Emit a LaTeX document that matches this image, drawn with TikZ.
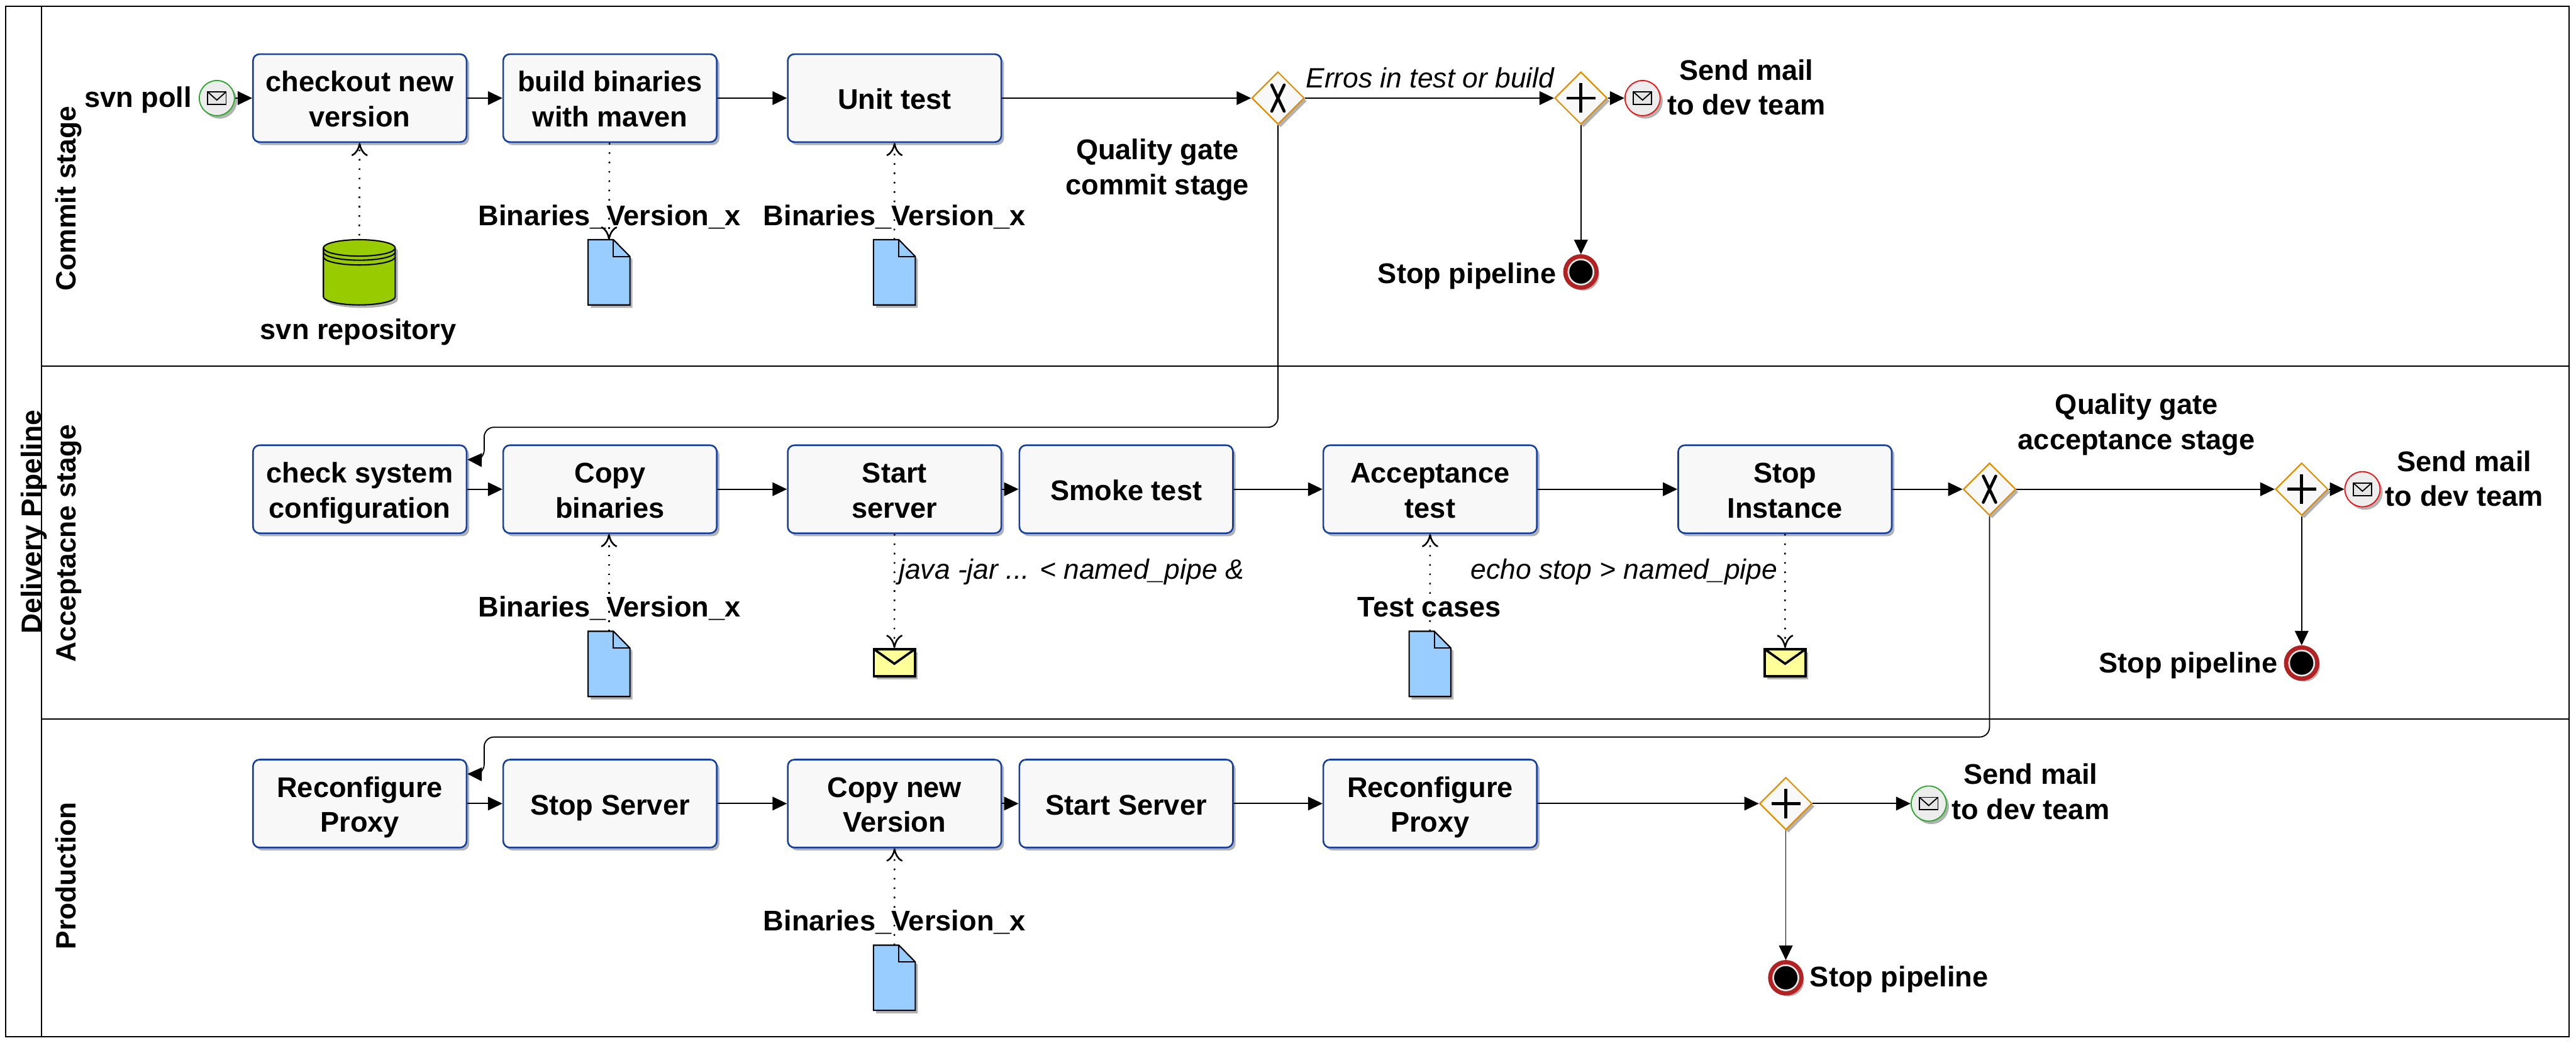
\documentclass[tikz,border=0pt]{standalone}
\usepackage{fontspec}
\setmainfont{Liberation Sans}
\usetikzlibrary{arrows.meta, shapes.geometric, shadows}

\definecolor{boxblue}{HTML}{1540A0}
\definecolor{boxfill}{HTML}{F8F8F8}
\definecolor{gateorange}{HTML}{E08A00}
\definecolor{docblue}{HTML}{99CCFF}
\definecolor{repogreen}{HTML}{99CC00}
\definecolor{msgyellow}{HTML}{FFFF99}
\definecolor{startgreen}{HTML}{2AA82A}
\definecolor{endred}{HTML}{EE1111}
\definecolor{stopred}{HTML}{B22222}

\tikzset{
  softshadow/.style={drop shadow={shadow xshift=1.6pt, shadow yshift=-1.8pt, fill=black, opacity=0.3}},
  lbl/.style={font=\fontsize{17.3}{21.3}\selectfont\bfseries, align=center, inner sep=0pt, execute at begin node={\rule{0pt}{17.2pt}}, execute at end node={\rule[-3.6pt]{0pt}{3.6pt}}},
  twoline/.style={execute at begin node={\rule{0pt}{38.5pt}}},
  note/.style={font=\fontsize{17}{21}\selectfont\itshape, inner sep=0pt},
  lanelbl/.style={font=\fontsize{17}{21}\selectfont\bfseries, inner sep=0pt, rotate=90, anchor=base},
  task/.style={lbl, draw=boxblue, fill=boxfill, line width=1pt, rounded corners=4pt, minimum width=130pt, minimum height=53.5pt, softshadow},
  flow/.style={-{Triangle[length=8.8pt, width=8.3pt]}, line width=0.7pt},
  assoc/.style={-{Computer Modern Rightarrow[length=8pt, width=10pt]}, line width=1pt, dash pattern=on 1pt off 4.7pt},
  gate/.style={diamond, draw=gateorange, fill=boxfill, line width=0.8pt, minimum width=32pt, minimum height=32pt, inner sep=0pt, softshadow},
  xgate/.style={gate, path picture={
    \draw[draw=black, line width=1.8pt, line cap=round]
      ([xshift=-3.8pt, yshift=8pt]path picture bounding box.center) -- ([xshift=3.8pt, yshift=-8pt]path picture bounding box.center)
      ([xshift=3.8pt, yshift=8pt]path picture bounding box.center) -- ([xshift=-3.8pt, yshift=-8pt]path picture bounding box.center);}},
  pgate/.style={gate, path picture={
    \draw[draw=black, line width=1.8pt]
      ([xshift=-8.8pt]path picture bounding box.center) -- ([xshift=8.8pt]path picture bounding box.center)
      ([yshift=9pt]path picture bounding box.center) -- ([yshift=-9pt]path picture bounding box.center);}},
  mailevent/.style={circle, draw=#1, fill=black!7, line width=0.7pt, minimum size=21.4pt, inner sep=0pt, softshadow, path picture={
    \draw[draw=black, line width=0.7pt, fill=black!10]
      ([xshift=-5.6pt, yshift=3.8pt]path picture bounding box.center) rectangle ([xshift=5.6pt, yshift=-3.8pt]path picture bounding box.center);
    \draw[draw=black, line width=0.7pt]
      ([xshift=-5.6pt, yshift=3.8pt]path picture bounding box.center) -- ([yshift=-1.2pt]path picture bounding box.center) -- ([xshift=5.6pt, yshift=3.8pt]path picture bounding box.center);}},
  stopevent/.style={circle, draw=stopred, fill=black!8, line width=2.6pt, minimum size=19pt, inner sep=0pt, softshadow, path picture={
    \fill[black] (path picture bounding box.center) circle (7.1pt);}},
  msgdata/.style={draw=black, fill=msgyellow, line width=1.4pt, minimum width=25pt, minimum height=16.6pt, inner sep=0pt, softshadow, path picture={
    \draw[line width=1.4pt]
      (path picture bounding box.north west) -- ([yshift=-0.6pt]path picture bounding box.center) -- (path picture bounding box.north east);}},
  empty/.style={minimum width=#1, minimum height=39.7pt, inner sep=0pt, outer sep=0pt},
}

\newcommand{\datadoc}[3]{
  \node[empty=25.4pt] (#1) at (#2,#3) {};
  \draw[fill=docblue, line width=0.8pt, softshadow] (#1.north west) -- ([xshift=15.4pt]#1.north west) -- ([yshift=-10.2pt]#1.north east) -- (#1.south east) -- (#1.south west) -- cycle;
  \draw[line width=0.8pt] ([xshift=15.4pt]#1.north west) |- ([yshift=-10.2pt]#1.north east);
}

\begin{document}
\begin{tikzpicture}[x=1pt, y=-1pt]
      \useasboundingbox (0,0) rectangle (1568,634.7);

      % pool and lanes
      \draw[line width=0.8pt] (3.6,3.9) rectangle (1563.7,630.8);
      \draw[line width=0.8pt] (25.2,3.9) -- (25.2,630.8);
      \draw[line width=0.8pt] (25.2,222.9) -- (1563.7,222.9);
      \draw[line width=0.8pt] (25.2,437.6) -- (1563.7,437.6);
      \node[lanelbl] (pool) at (25,317.6) {Delivery Pipeline};
      \node[lanelbl] (lane1) at (46,120.8) {Commit stage};
      \node[lanelbl] (lane2) at (46,330.7) {Acceptacne stage};
      \node[lanelbl] (lane3) at (46,533) {Production};

      % commit stage
      \node[mailevent=startgreen] (poll) at (132,59.7) {};
      \node[task, twoline] (checkout) at (219,59.7) {checkout new\\version};
      \node[task, twoline] (build) at (371.3,59.7) {build binaries\\with maven};
      \node[task] (unit) at (544.5,59.7) {Unit test};
      \node[xgate] (gate1) at (777.9,59.7) {};
      \node[pgate] (plus1) at (962.3,59.7) {};
      \node[mailevent=endred] (mail1) at (999.8,59.7) {};
      \node[stopevent] (stop1) at (962.3,165.5) {};

      \node[empty=43.7pt] (repo) at (218.7,165.7) {};
      \draw[fill=repogreen, line width=0.8pt, softshadow] ([yshift=-5pt]repo.north west) arc[start angle=180, end angle=0, x radius=21.85pt, y radius=5pt] -- ([yshift=5pt]repo.south east) arc[start angle=0, end angle=-180, x radius=21.85pt, y radius=5pt] -- cycle;
      \draw[line width=0.8pt] ([yshift=-5pt]repo.north west) arc[start angle=180, end angle=360, x radius=21.85pt, y radius=5pt];
      \draw[line width=0.8pt] ([yshift=-7.5pt]repo.north west) arc[start angle=180, end angle=360, x radius=21.85pt, y radius=5pt];
      \draw[line width=0.8pt] ([yshift=-10.4pt]repo.north west) arc[start angle=180, end angle=360, x radius=21.85pt, y radius=5pt];
      \datadoc{doc1}{370.7}{165.7}
      \datadoc{doc2}{544.4}{165.7}

      \draw[flow] (poll) -- (checkout);
      \draw[flow] (checkout) -- (build);
      \draw[flow] (build) -- (unit);
      \draw[flow] (unit) -- (gate1);
      \draw[flow] (gate1) -- (plus1);
      \draw[flow] (plus1) -- (mail1);
      \draw[flow] (plus1) -- (stop1);
      \draw[assoc] ([yshift=2.5pt]repo.north) -- (checkout);
      \draw[assoc] ([xshift=-0.3pt]build.south) -- (doc1.north);
      \draw[assoc] (doc2.north) -- (unit.south);

      % acceptance stage
      \node[task, twoline] (check) at (219,297.7) {check system\\configuration};
      \node[task, twoline] (copybin) at (371.3,297.7) {Copy\\binaries};
      \node[task, twoline] (start1) at (544.5,297.7) {Start\\server};
      \node[task] (smoke) at (685.5,297.7) {Smoke test};
      \node[task, twoline] (accept) at (870.5,297.7) {Acceptance\\test};
      \node[task, twoline] (stopinst) at (1086.5,297.7) {Stop\\Instance};
      \node[xgate] (gate2) at (1211,297.7) {};
      \node[pgate] (plus2) at (1401,297.7) {};
      \node[mailevent=endred] (mail2) at (1438,297.7) {};
      \node[stopevent] (stop2) at (1401,403.5) {};
      \datadoc{doc3}{370.7}{404}
      \datadoc{doc4}{870.4}{404}
      \node[msgdata] (msg1) at (544.4,403.3) {};
      \node[msgdata] (msg2) at (1086.6,403.3) {};

      \draw[flow, rounded corners=6pt] (gate1.south) -- (777.9,260) -- (294.7,260) -- (294.7,280) -- ([yshift=-9.2pt]check.north east);
      \draw[flow] (check) -- (copybin);
      \draw[flow] (copybin) -- (start1);
      \draw[flow] (start1) -- (smoke);
      \draw[flow] (smoke) -- (accept);
      \draw[flow] (accept) -- (stopinst);
      \draw[flow] (stopinst) -- (gate2);
      \draw[flow] (gate2) -- (plus2);
      \draw[flow] (plus2) -- (mail2);
      \draw[flow] (plus2) -- (stop2);
      \draw[assoc] (doc3.north) -- ([xshift=-0.6pt]copybin.south);
      \draw[assoc] (start1.south) -- (msg1.north);
      \draw[assoc] (doc4.north) -- (accept.south);
      \draw[assoc] (stopinst.south) -- (msg2.north);

      % production
      \node[task, twoline] (proxy1) at (219,489) {Reconfigure\\Proxy};
      \node[task] (stopsrv) at (371.3,489) {Stop Server};
      \node[task, twoline] (copynew) at (544.5,489) {Copy new\\Version};
      \node[task] (start2) at (685.5,489) {Start Server};
      \node[task, twoline] (proxy2) at (870.5,489) {Reconfigure\\Proxy};
      \node[pgate] (plus3) at (1087,489) {};
      \node[mailevent=startgreen] (mail3) at (1174,489) {};
      \node[stopevent] (stop3) at (1087,595) {};
      \datadoc{doc5}{544.4}{595}

      \draw[flow, rounded corners=6pt] (gate2.south) -- (1211,448.5) -- (294.7,448.5) -- (294.7,471.2) -- ([yshift=-9.2pt]proxy1.north east);
      \draw[flow] (proxy1) -- (stopsrv);
      \draw[flow] (stopsrv) -- (copynew);
      \draw[flow] (copynew) -- (start2);
      \draw[flow] (start2) -- (proxy2);
      \draw[flow] (proxy2) -- (plus3);
      \draw[flow] (plus3) -- (mail3);
      \draw[flow] (plus3) -- (stop3);
      \draw[assoc] (doc5.north) -- (copynew.south);

      % labels
      \node[lbl] (t1) at (84,58.5) {svn poll};
      \node[lbl] (t2) at (218,199.7) {svn repository};
      \node[lbl] (t3) at (371,130.6) {Binaries\_Version\_x};
      \node[lbl] (t4) at (544.5,130.6) {Binaries\_Version\_x};
      \node[lbl, twoline] (t5) at (704.5,101) {Quality gate\\commit stage};
      \node[lbl, twoline] (t6) at (1063,52.6) {Send mail\\to dev team};
      \node[lbl] (t7) at (893,165.6) {Stop pipeline};
      \node[note] (t8) at (870.5,47.5) {Erros in test or build};
      \node[lbl] (t9) at (371,368.6) {Binaries\_Version\_x};
      \node[note, anchor=west] (t10) at (547,348) {java -jar ... < named\_pipe \&};
      \node[lbl] (t11) at (870,368.6) {Test cases};
      \node[note, anchor=west] (t12) at (895,348) {echo stop > named\_pipe};
      \node[lbl, twoline] (t13) at (1300.5,256) {Quality gate\\acceptance stage};
      \node[lbl, twoline] (t14) at (1500,290.6) {Send mail\\to dev team};
      \node[lbl] (t15) at (1332,402.6) {Stop pipeline};
      \node[lbl] (t16) at (544.5,559.6) {Binaries\_Version\_x};
      \node[lbl, twoline] (t17) at (1236,481) {Send mail\\to dev team};
      \node[lbl] (t18) at (1156,593.6) {Stop pipeline};
    \end{tikzpicture}
\end{document}
